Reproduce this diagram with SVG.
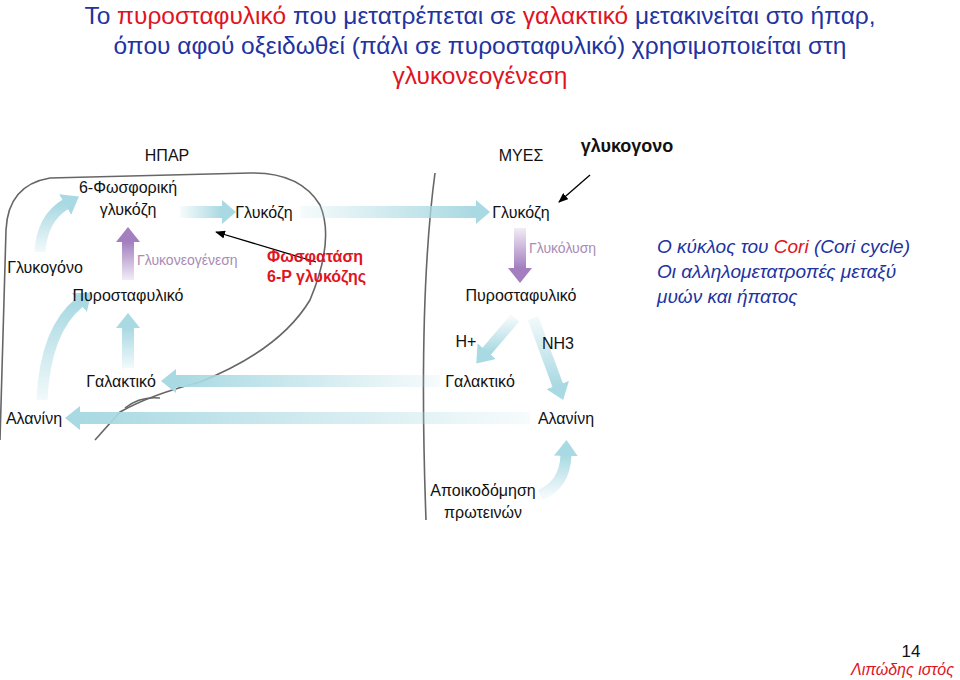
<svg xmlns="http://www.w3.org/2000/svg" width="960" height="680" viewBox="0 0 960 680">
<style>
text{font-family:"Liberation Sans",Arial,sans-serif}
.t{font-size:24.5px;fill:#2233a0;text-anchor:middle}
.r{fill:#e0141e}
.n{font-size:16px;fill:#111}
.p{font-size:14px;fill:#a98bb5}
.c{font-size:19px;fill:#2233a0;font-style:italic}
.a{fill:none;stroke-width:11}
.hb{fill:#a9d9e2}
.hp{fill:#a37fbf}
.k{stroke:#000;stroke-width:1.3;fill:none;marker-end:url(#bk)}
</style>
<defs>
<marker id="bk" markerWidth="10" markerHeight="8" refX="9" refY="4" orient="auto" markerUnits="userSpaceOnUse"><path d="M0,0L10,4L0,8z" fill="#000"/></marker>
<marker id="mb" markerWidth="16" markerHeight="24" refX="1" refY="12" orient="auto" markerUnits="userSpaceOnUse"><path d="M0,0L16,12L0,24z" fill="#a9d9e2"/></marker>
<linearGradient id="gr" x1="0" x2="1"><stop offset="0" stop-color="#a9d9e2" stop-opacity="0.1"/><stop offset="1" stop-color="#a9d9e2"/></linearGradient>
<linearGradient id="gl" x1="1" x2="0"><stop offset="0" stop-color="#a9d9e2" stop-opacity="0.1"/><stop offset="1" stop-color="#a9d9e2"/></linearGradient>
<linearGradient id="gu" x1="0" y1="1" x2="0" y2="0"><stop offset="0" stop-color="#a9d9e2" stop-opacity="0.15"/><stop offset="1" stop-color="#a9d9e2"/></linearGradient>
<linearGradient id="gd" x1="0" y1="0" x2="0" y2="1"><stop offset="0" stop-color="#a9d9e2" stop-opacity="0.15"/><stop offset="1" stop-color="#a9d9e2"/></linearGradient>
<linearGradient id="gpu" x1="0" y1="1" x2="0" y2="0"><stop offset="0" stop-color="#a37fbf" stop-opacity="0.15"/><stop offset="1" stop-color="#a37fbf"/></linearGradient>
<linearGradient id="gpd" x1="0" y1="0" x2="0" y2="1"><stop offset="0" stop-color="#a37fbf" stop-opacity="0.15"/><stop offset="1" stop-color="#a37fbf"/></linearGradient>
</defs>
<g id="title">
<text class="t" x="480" y="24">Το <tspan class="r">πυροσταφυλικό</tspan> που μετατρέπεται σε <tspan class="r">γαλακτικό</tspan> μετακινείται στο ήπαρ,</text>
<text class="t" x="480" y="54">όπου αφού οξειδωθεί (πάλι σε πυροσταφυλικό) χρησιμοποιείται στη</text>
<text class="t" x="480" y="84"><tspan class="r">γλυκονεογένεση</tspan></text>
</g>
<g id="outlines" fill="none" stroke="#666" stroke-width="1.6">
<path d="M0,440 L6,230 Q8,185 50,178 L250,173 Q300,172 320,205 Q335,240 310,300 Q280,350 200,382 Q150,395 120,412 L95,440"/>
<path d="M125,408 Q140,396 160,398"/>
<path d="M435,173 Q418,300 426,520"/>
</g>
<g id="connectors">
<rect x="180" y="206" width="42" height="12" fill="url(#gr)"/><polygon class="hb" points="222,200 236,212 222,224"/>
<rect x="300" y="206" width="176" height="12" fill="url(#gr)"/><polygon class="hb" points="476,200 490,212 476,224"/>
<rect x="122" y="242" width="12" height="38" fill="url(#gpu)"/><polygon class="hp" points="116,242 128,227 140,242"/>
<rect x="122" y="328" width="12" height="40" fill="url(#gu)"/><polygon class="hb" points="116,328 128,313 140,328"/>
<rect x="176" y="375" width="264" height="12" fill="url(#gl)"/><polygon class="hb" points="176,369 161,381 176,393"/>
<rect x="80" y="412" width="450" height="12" fill="url(#gl)"/><polygon class="hb" points="80,406 65,418 80,430"/>
<rect x="514" y="228" width="12" height="40" fill="url(#gpd)"/><polygon class="hp" points="508,268 520,283 532,268"/>
<path class="a" d="M40,252 Q42,218 66,204" stroke="url(#gu)" marker-end="url(#mb)"/>
<path class="a" d="M42,400 Q45,330 80,302" stroke="url(#gu)" marker-end="url(#mb)"/>
<path class="a" d="M515,318 L486,352" stroke="url(#gd)" marker-end="url(#mb)"/>
<path class="a" d="M533,318 L558,386" stroke="url(#gd)" marker-end="url(#mb)"/>
<path class="a" d="M540,495 Q565,485 566,455" stroke="url(#gu)" marker-end="url(#mb)"/>
<path class="k" d="M316,262 L216,232"/>
<path class="k" d="M590,175 L559,202"/>
</g>
<g id="labels">
<text class="n" x="167" y="161" text-anchor="middle">ΗΠΑΡ</text>
<text class="n" x="521" y="161" text-anchor="middle">ΜΥΕΣ</text>
<text x="627" y="152" text-anchor="middle" font-size="18" font-weight="bold" fill="#111">γλυκογονο</text>
<text class="n" x="128" y="193" text-anchor="middle">6-Φωσφορική</text>
<text class="n" x="128" y="215" text-anchor="middle">γλυκόζη</text>
<text class="n" x="264" y="218" text-anchor="middle">Γλυκόζη</text>
<text class="n" x="521" y="218" text-anchor="middle">Γλυκόζη</text>
<text class="n" x="45" y="273" text-anchor="middle">Γλυκογόνο</text>
<text class="p" x="137" y="265">Γλυκονεογένεση</text>
<text x="267" y="262" font-size="16" font-weight="bold" fill="#e0141e">Φωσφατάση</text>
<text x="267" y="282" font-size="16" font-weight="bold" fill="#e0141e">6-P γλυκόζης</text>
<text class="p" x="529" y="253">Γλυκόλυση</text>
<text class="n" x="128" y="301" text-anchor="middle">Πυροσταφυλικό</text>
<text class="n" x="521" y="301" text-anchor="middle">Πυροσταφυλικό</text>
<text class="n" x="466" y="347" text-anchor="middle">H+</text>
<text class="n" x="558" y="349" text-anchor="middle">NH3</text>
<text class="n" x="121" y="387" text-anchor="middle">Γαλακτικό</text>
<text class="n" x="480" y="387" text-anchor="middle">Γαλακτικό</text>
<text class="n" x="34" y="424" text-anchor="middle">Αλανίνη</text>
<text class="n" x="566" y="424" text-anchor="middle">Αλανίνη</text>
<text class="n" x="483" y="496" text-anchor="middle">Αποικοδόμηση</text>
<text class="n" x="483" y="518" text-anchor="middle">πρωτεινών</text>
</g>
<g id="cori">
<text class="c" x="657" y="253">Ο κύκλος του <tspan class="r">Cori</tspan> (Cori cycle)</text>
<text class="c" x="657" y="278">Οι αλληλομετατροπές μεταξύ</text>
<text class="c" x="657" y="303">μυών και ήπατος</text>
</g>
<g id="footer">
<text x="911" y="657" text-anchor="middle" font-size="17" fill="#111">14</text>
<text x="954" y="675" text-anchor="end" font-size="16" font-style="italic" fill="#e0141e">Λιπώδης ιστός</text>
</g>
</svg>
